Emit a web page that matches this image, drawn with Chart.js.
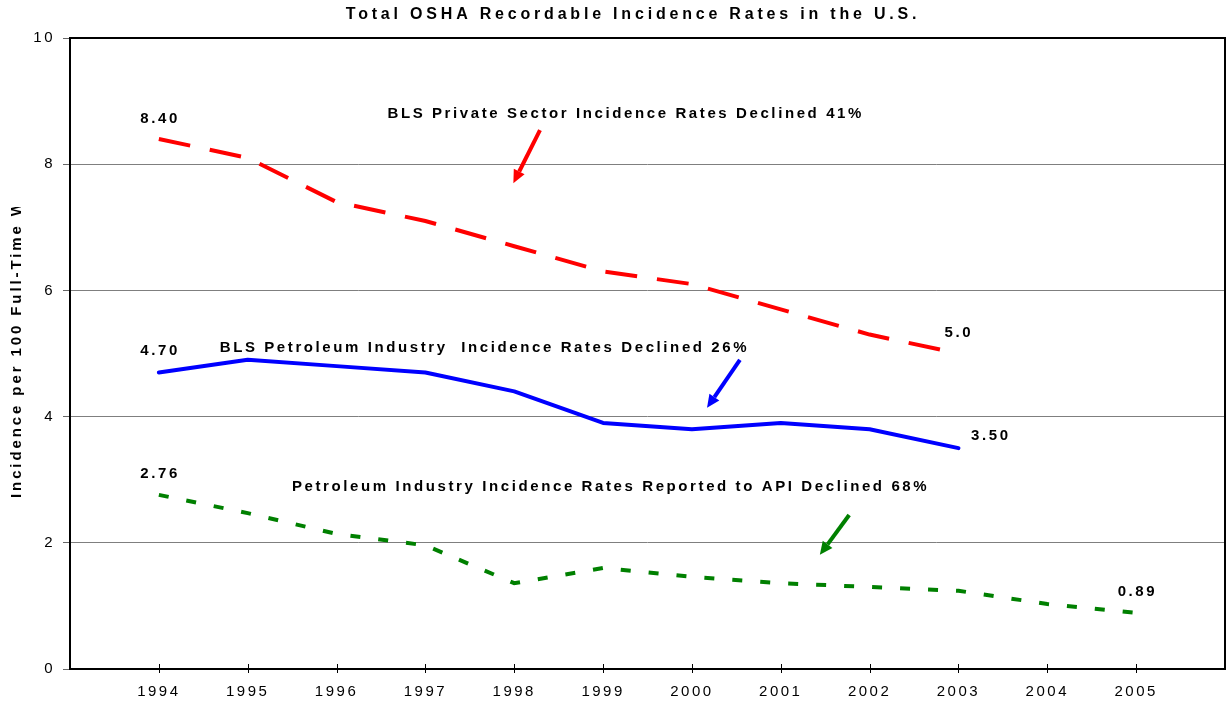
<!DOCTYPE html>
<html>
<head>
<meta charset="utf-8">
<script src="https://cdn.jsdelivr.net/npm/chart.js@4.4.0/dist/chart.umd.min.js"></script>
<style>
  html, body { margin: 0; padding: 0; background: #fff; }
</style>
</head>
<body>
<canvas id="osha" width="1227" height="704"></canvas>
<script>
const years = [1994, 1995, 1996, 1997, 1998, 1999, 2000, 2001, 2002, 2003, 2004, 2005];
const privateSector = [8.4, 8.1, 7.4, 7.1, 6.7, 6.3, 6.1, 5.7, 5.3, 5.0];
const petroleumBLS = [4.7, 4.9, 4.8, 4.7, 4.4, 3.9, 3.8, 3.9, 3.8, 3.5];
const petroleumAPI = [2.76, 2.47, 2.14, 1.96, 1.36, 1.60, 1.46, 1.36, 1.30, 1.24, 1.03, 0.89];

const FONT = '"Liberation Sans", Arial, sans-serif';

// annotation anchors, in data units (year, rate)
const notes = [
    {text: '8.40', x: 1994, y: 8.72},
    {text: 'BLS Private Sector Incidence Rates Declined 41%', x: 1999.24, y: 8.80},
    {text: '4.70', x: 1994, y: 5.04},
    {text: 'BLS Petroleum Industry  Incidence Rates Declined 26%', x: 1997.65, y: 5.09},
    {text: '5.0', x: 2002.99, y: 5.32},
    {text: '3.50', x: 2003.35, y: 3.69},
    {text: '2.76', x: 1994, y: 3.09},
    {text: 'Petroleum Industry Incidence Rates Reported to API Declined 68%', x: 1999.07, y: 2.88},
    {text: '0.89', x: 2005, y: 1.22}
];
const arrows = [
    {from: [1998.29, 8.54], to: [1997.99, 7.70], color: '#ff0000'},
    {from: [2000.54, 4.90], to: [2000.17, 4.14], color: '#0000ff'},
    {from: [2001.77, 2.44], to: [2001.44, 1.81], color: '#008000'}
];

const toPoints = (values) => values.map((v, i) => ({x: years[i], y: v}));

function drawArrow(ctx, x1, y1, x2, y2, color) {
    const ang = Math.atan2(y2 - y1, x2 - x1);
    const head = 13, wing = 6;
    const bx = x2 - head * Math.cos(ang), by = y2 - head * Math.sin(ang);
    ctx.strokeStyle = color;
    ctx.fillStyle = color;
    ctx.lineWidth = 4;
    ctx.beginPath();
    ctx.moveTo(x1, y1);
    ctx.lineTo(bx, by);
    ctx.stroke();
    ctx.beginPath();
    ctx.moveTo(x2, y2);
    ctx.lineTo(bx + wing * Math.sin(ang), by - wing * Math.cos(ang));
    ctx.lineTo(bx - wing * Math.sin(ang), by + wing * Math.cos(ang));
    ctx.closePath();
    ctx.fill();
}

const spacing = {
    id: 'spacing',
    beforeUpdate(chart) { chart.ctx.letterSpacing = '2.5px'; },
    beforeDraw(chart) { chart.ctx.letterSpacing = '2.5px'; }
};

const frame = {
    id: 'frame',
    beforeDatasetsDraw(chart) {
        const {ctx, chartArea: a, scales: {x}} = chart;
        ctx.save();
        ctx.strokeStyle = '#000';
        ctx.lineWidth = 2;
        ctx.strokeRect(a.left, a.top, a.right - a.left, a.bottom - a.top);
        ctx.lineWidth = 1;
        years.forEach(yr => {
            const px = Math.round(x.getPixelForValue(yr)) + 0.5;
            ctx.beginPath();
            ctx.moveTo(px, a.bottom - 5);
            ctx.lineTo(px, a.bottom + 4);
            ctx.stroke();
        });
        ctx.restore();
    }
};

const labels = {
    id: 'labels',
    afterDatasetsDraw(chart) {
        const {ctx, scales: {x, y}} = chart;
        ctx.save();
        ctx.letterSpacing = '2.6px';
        ctx.fillStyle = '#000';
        ctx.font = 'bold 15px ' + FONT;
        ctx.textAlign = 'center';
        ctx.textBaseline = 'middle';
        notes.forEach(n => {
            ctx.fillText(n.text, x.getPixelForValue(n.x) + 1.3, y.getPixelForValue(n.y));
        });
        arrows.forEach(ar => {
            drawArrow(ctx,
                x.getPixelForValue(ar.from[0]), y.getPixelForValue(ar.from[1]),
                x.getPixelForValue(ar.to[0]), y.getPixelForValue(ar.to[1]), ar.color);
        });
        ctx.restore();
    },
    afterDraw(chart) {
        const ctx = chart.ctx;
        ctx.save();
        ctx.letterSpacing = '3.8px';
        ctx.fillStyle = '#000';
        ctx.font = 'bold 16px ' + FONT;
        ctx.textAlign = 'center';
        ctx.textBaseline = 'middle';
        ctx.fillText('Total OSHA Recordable Incidence Rates in the U.S.', 633, 15);

        // axis title, clipped at the top like the original
        ctx.beginPath();
        ctx.rect(0, 207, 40, 400);
        ctx.clip();
        ctx.translate(17, 498);
        ctx.rotate(-Math.PI / 2);
        ctx.letterSpacing = '2.9px';
        ctx.font = 'bold 15px ' + FONT;
        ctx.textAlign = 'left';
        ctx.fillText('Incidence per 100 Full-Time Workers', 0, 0);
        ctx.restore();
    }
};

new Chart(document.getElementById('osha'), {
    type: 'line',
    data: {
        datasets: [
            {
                label: 'BLS Private Sector',
                data: toPoints(privateSector),
                borderColor: '#ff0000',
                borderWidth: 4,
                borderDash: [32, 20],
                pointRadius: 0,
                tension: 0
            },
            {
                label: 'BLS Petroleum Industry',
                data: toPoints(petroleumBLS),
                borderColor: '#0000ff',
                borderWidth: 4,
                borderCapStyle: 'round',
                borderJoinStyle: 'round',
                pointRadius: 0,
                tension: 0
            },
            {
                label: 'Petroleum Industry (API)',
                data: toPoints(petroleumAPI),
                borderColor: '#008000',
                borderWidth: 4,
                borderDash: [10, 18],
                pointRadius: 0,
                tension: 0
            }
        ]
    },
    options: {
        responsive: false,
        devicePixelRatio: 1,
        animation: false,
        layout: {padding: {top: 38, right: 2, left: 0, bottom: 0}},
        plugins: {
            legend: {display: false},
            tooltip: {enabled: false},
            title: {display: false}
        },
        scales: {
            x: {
                type: 'linear',
                min: 1993,
                max: 2006,
                border: {display: false},
                grid: {display: false},
                ticks: {
                    stepSize: 1,
                    autoSkip: false,
                    maxRotation: 0,
                    color: '#000',
                    padding: 6,
                    font: {family: FONT, size: 15},
                    callback: v => (v > 1993 && v < 2006) ? String(v) : ''
                },
                afterFit(scale) {
                    scale.height = 35;
                    scale.paddingLeft = 0;
                    scale.paddingRight = 0;
                }
            },
            y: {
                min: 0,
                max: 10,
                border: {display: false},
                grid: {color: '#7f7f7f', lineWidth: 1, tickLength: 7, tickColor: '#666'},
                ticks: {
                    stepSize: 2,
                    color: '#000',
                    padding: 8,
                    font: {family: FONT, size: 15}
                },
                afterFit(scale) { scale.width = 70; }
            }
        }
    },
    plugins: [spacing, frame, labels]
});
</script>
</body>
</html>
